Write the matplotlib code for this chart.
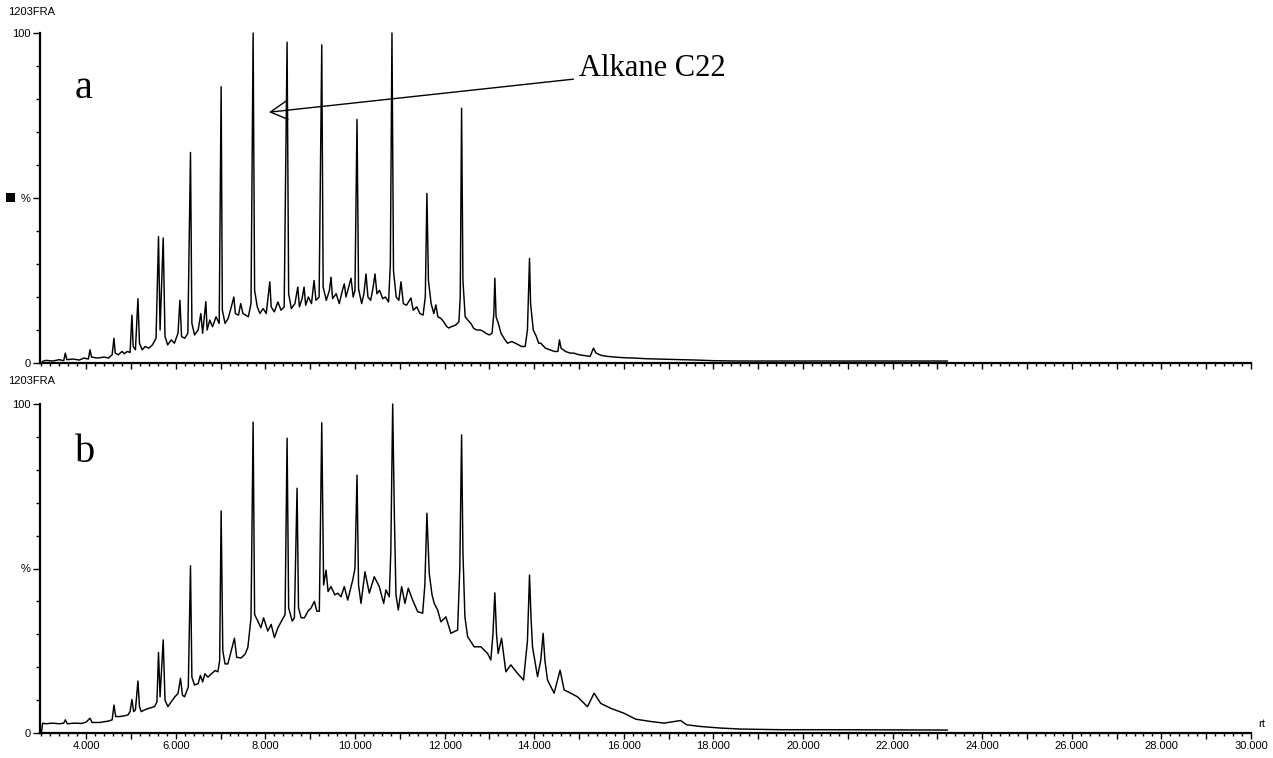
import matplotlib
matplotlib.use("Agg")
import matplotlib.pyplot as plt
from matplotlib.ticker import FixedLocator, MultipleLocator, FuncFormatter
from matplotlib.patches import Rectangle

# ---------------- data (retention time in min, relative intensity in %) -------------
rt_a = [3.00, 3.03, 3.10, 3.25, 3.40, 3.50, 3.535, 3.57, 3.70, 3.85, 3.95, 4.05, 4.086, 4.12, 4.25,
        4.40, 4.50, 4.58, 4.621, 4.65, 4.72, 4.80, 4.85, 4.92, 4.98, 5.022, 5.05, 5.10, 5.156,
        5.19, 5.25, 5.32, 5.40, 5.48, 5.56, 5.615, 5.65, 5.72, 5.76, 5.82, 5.90, 5.97, 6.05,
        6.093, 6.13, 6.20, 6.27, 6.329, 6.36, 6.42, 6.50, 6.56, 6.60, 6.672, 6.70, 6.76, 6.82,
        6.90, 6.97, 7.013, 7.04, 7.10, 7.17, 7.24, 7.297, 7.33, 7.40, 7.45, 7.50, 7.62, 7.68,
        7.727, 7.76, 7.82, 7.88, 7.95, 8.02, 8.099, 8.13, 8.20, 8.28, 8.35, 8.42, 8.485, 8.52,
        8.58, 8.66, 8.724, 8.76, 8.82, 8.864, 8.90, 8.96, 9.03, 9.087, 9.13, 9.20, 9.259, 9.29,
        9.36, 9.43, 9.466, 9.50, 9.58, 9.65, 9.72, 9.762, 9.80, 9.85, 9.912, 9.96, 10.00,
        10.046, 10.08, 10.15, 10.20, 10.246, 10.29, 10.35, 10.40, 10.447, 10.49, 10.55, 10.62,
        10.68, 10.75, 10.79, 10.826, 10.86, 10.92, 10.98, 11.027, 11.08, 11.15, 11.25, 11.30,
        11.38, 11.45, 11.52, 11.57, 11.606, 11.64, 11.70, 11.76, 11.807, 11.85, 11.92, 11.98,
        12.05, 12.097, 12.15, 12.25, 12.32, 12.35, 12.380, 12.41, 12.46, 12.52, 12.587, 12.65,
        12.72, 12.80, 12.877, 12.92, 13.00, 13.06, 13.10, 13.122, 13.15, 13.20, 13.26, 13.35,
        13.406, 13.50, 13.58, 13.65, 13.72, 13.80, 13.85, 13.896, 13.92, 13.98, 14.05, 14.10,
        14.148, 14.25, 14.35, 14.45, 14.53, 14.565, 14.60, 14.70, 14.80, 14.884, 15.00, 15.10,
        15.25, 15.323, 15.38, 15.50, 15.635, 15.80, 16.00, 16.222, 16.50, 16.98, 17.30, 17.60,
        18.00, 18.50, 20.00, 23.22]
int_a = [0.0, 0.5, 0.8, 0.6, 1.0, 0.7, 3.0, 1.0, 1.2, 0.9, 1.5, 1.2, 4.0, 1.8, 1.5,
         1.8, 1.5, 2.5, 7.5, 3.0, 2.5, 3.5, 2.8, 3.5, 3.2, 14.5, 5.0, 4.0, 19.5,
         6.0, 4.0, 5.0, 4.5, 5.5, 7.5, 38.3, 10.0, 37.9, 8.0, 5.5, 7.0, 6.0, 9.0,
         19.0, 8.0, 7.5, 9.0, 63.8, 12.0, 8.5, 10.0, 15.0, 9.0, 18.6, 10.0, 13.0, 11.0,
         14.0, 12.0, 83.7, 16.0, 12.0, 13.5, 17.0, 20.0, 15.0, 14.5, 18.0, 15.0, 14.0, 18.0,
         100.0, 22.0, 17.0, 15.0, 16.5, 15.0, 24.6, 17.0, 15.5, 18.5, 16.0, 17.0, 97.2, 21.0,
         16.5, 18.0, 23.0, 17.0, 19.5, 23.0, 17.5, 20.0, 18.0, 25.0, 19.0, 20.0, 96.4, 23.0,
         19.0, 22.0, 26.0, 19.5, 21.0, 18.0, 22.0, 24.0, 20.0, 22.5, 25.7, 20.0, 22.0,
         73.8, 22.5, 18.0, 21.0, 27.0, 20.0, 19.0, 22.5, 27.0, 21.0, 22.0, 19.5,
         20.0, 18.5, 30.0, 100.0, 28.0, 20.0, 19.0, 24.6, 18.0, 17.5, 19.7, 16.0,
         17.0, 15.0, 14.5, 20.0, 51.4, 25.0, 18.0, 15.0, 17.6, 14.0, 13.5, 12.5,
         11.0, 10.6, 11.0, 11.5, 12.5, 20.0, 77.2, 25.0, 14.0, 13.0, 12.0, 10.5,
         10.0, 10.0, 9.5, 9.0, 8.5, 9.0, 15.0, 25.7, 14.0, 12.0, 9.0, 7.0,
         6.0, 6.5, 6.0, 5.5, 5.0, 5.0, 10.0, 31.7, 18.0, 10.0, 8.0, 6.0,
         6.0, 4.5, 4.0, 3.5, 3.5, 7.0, 4.5, 3.5, 3.0, 3.0, 2.5, 2.3,
         2.0, 4.5, 3.0, 2.3, 2.0, 1.8, 1.6, 1.5, 1.3, 1.1, 1.0, 0.9,
         0.7, 0.6, 0.6, 0.6]

rt_b = [3.00, 3.03, 3.10, 3.25, 3.40, 3.50, 3.535, 3.58, 3.742, 3.90, 4.00, 4.086, 4.13, 4.30, 4.487,
        4.58, 4.621, 4.66, 4.75, 4.85, 4.933, 4.98, 5.022, 5.06, 5.10, 5.156, 5.19, 5.230, 5.30,
        5.40, 5.526, 5.58, 5.615, 5.65, 5.720, 5.76, 5.825, 5.90, 5.98, 6.05, 6.106, 6.15, 6.195,
        6.28, 6.329, 6.36, 6.418, 6.50, 6.55, 6.60, 6.65, 6.717, 6.80, 6.88, 6.940, 6.98, 7.013,
        7.05, 7.10, 7.163, 7.22, 7.310, 7.36, 7.459, 7.55, 7.609, 7.68, 7.727, 7.76, 7.832, 7.90,
        7.96, 8.055, 8.13, 8.202, 8.28, 8.351, 8.44, 8.485, 8.52, 8.60, 8.648, 8.708, 8.74, 8.80,
        8.871, 8.95, 9.02, 9.094, 9.15, 9.205, 9.259, 9.30, 9.355, 9.40, 9.466, 9.55, 9.616,
        9.689, 9.762, 9.838, 9.950, 10.000, 10.046, 10.08, 10.135, 10.224, 10.320, 10.431,
        10.543, 10.641, 10.692, 10.766, 10.80, 10.842, 10.88, 10.915, 10.967, 11.042, 11.116,
        11.190, 11.288, 11.399, 11.511, 11.56, 11.606, 11.658, 11.72, 11.769, 11.845, 11.918,
        12.030, 12.141, 12.291, 12.34, 12.380, 12.41, 12.454, 12.514, 12.661, 12.811, 12.960,
        13.033, 13.08, 13.122, 13.16, 13.196, 13.272, 13.368, 13.479, 13.629, 13.763, 13.85,
        13.896, 13.93, 13.963, 14.075, 14.148, 14.200, 14.24, 14.298, 14.445, 14.579, 14.668,
        14.817, 14.967, 15.190, 15.337, 15.486, 15.709, 16.006, 16.267, 16.60, 16.90, 17.27,
        17.40, 17.70, 18.16, 18.60, 19.50, 20.50, 23.22]
int_b = [0.0, 3.0, 2.8, 3.0, 2.8, 3.0, 4.0, 2.8, 3.0, 2.9, 3.3, 4.5, 3.2, 3.2, 3.6,
         4.0, 8.5, 5.0, 5.0, 5.2, 5.5, 6.5, 10.2, 6.5, 7.0, 15.8, 8.0, 6.5, 7.0,
         7.5, 8.0, 9.5, 24.5, 11.0, 28.3, 10.0, 8.0, 9.5, 11.0, 12.0, 16.6, 11.5, 11.0,
         14.0, 50.8, 17.0, 14.6, 15.0, 17.5, 15.5, 18.0, 17.0, 18.0, 19.0, 18.6, 22.0, 67.5,
         25.0, 21.0, 21.0, 24.0, 28.8, 23.0, 22.8, 24.0, 26.0, 35.0, 94.5, 36.0, 34.0, 32.0,
         35.0, 31.0, 33.0, 29.0, 32.0, 33.8, 36.0, 89.6, 38.0, 34.0, 35.0, 74.4, 38.0, 35.0,
         35.0, 37.0, 38.0, 40.0, 37.0, 37.0, 94.3, 45.0, 49.5, 43.0, 44.5, 42.0, 42.5,
         41.4, 44.5, 40.4, 46.5, 50.0, 78.4, 45.0, 39.4, 49.0, 42.5, 47.5,
         44.5, 39.4, 43.5, 41.4, 55.0, 100.0, 65.7, 42.0, 37.4, 44.5, 39.4,
         44.0, 40.4, 36.9, 36.4, 45.0, 66.8, 48.5, 42.0, 39.4, 37.4, 33.8,
         35.3, 30.3, 31.3, 50.0, 90.6, 55.0, 35.3, 29.3, 26.2, 26.2, 24.2,
         22.2, 30.0, 42.6, 30.0, 24.2, 28.8, 18.6, 20.7, 18.1, 16.1, 28.0,
         48.0, 35.0, 26.2, 17.1, 22.2, 30.3, 22.0, 16.1, 12.1, 19.1, 13.1,
         12.1, 11.0, 8.0, 12.1, 9.0, 7.5, 6.0, 4.2, 3.5, 3.0, 3.8,
         2.5, 2.0, 1.5, 1.2, 1.0, 1.0, 0.9]

panel_labels = ["a", "b"]
header = "1203FRA"
x_major = list(range(4, 31, 1))
annot_text = "Alkane C22"
annot_xy = (8.08, 76.0)
annot_text_xy = (15.0, 87.0)

# ---------------- figure ----------------
W, H = 1273, 758
fig = plt.figure(figsize=(W / 100, H / 100), dpi=100)
sans = "Liberation Sans"
serif = "Liberation Serif"

ax1 = fig.add_axes([40 / W, 1 - 363 / H, 1211 / W, 330 / H])
ax2 = fig.add_axes([40 / W, 1 - 733 / H, 1211 / W, 329 / H])

def fmt(v, pos):
    v = round(v)
    return f"{v:.3f}" if v % 2 == 0 else ""

for ax, rt, it, lab, ly in [(ax1, rt_a, int_a, panel_labels[0], 0.803),
                            (ax2, rt_b, int_b, panel_labels[1], 0.824)]:
    ax.plot(rt, it, color="black", lw=1.05, clip_on=False)
    ax.set_xlim(2.97, 30.0)
    ax.set_ylim(0, 100)
    for s in ["top", "right"]:
        ax.spines[s].set_visible(False)
    for s in ["left", "bottom"]:
        ax.spines[s].set_linewidth(1.6)
    ax.set_yticks([0, 50, 100])
    ax.set_yticklabels(["0", "%", "100"])
    ax.yaxis.set_minor_locator(FixedLocator([10, 20, 30, 40, 60, 70, 80, 90]))
    ax.xaxis.set_major_locator(FixedLocator(x_major))
    ax.xaxis.set_major_formatter(FuncFormatter(fmt))
    ax.xaxis.set_minor_locator(MultipleLocator(0.2))
    ax.tick_params(axis="y", which="major", length=5, width=1.0, pad=1.5, labelsize=8)
    ax.tick_params(axis="y", which="minor", length=3, width=1.0)
    ax.tick_params(axis="x", which="major", length=4.5, width=1.0, pad=1.5, labelsize=8)
    ax.tick_params(axis="x", which="minor", length=2.2, width=1.0)
    for t in ax.get_xticklabels() + ax.get_yticklabels():
        t.set_fontfamily(sans)
    ax.text(0.029, ly, lab, transform=ax.transAxes, fontsize=29, family=serif,
            ha="left", va="baseline")

ax1.tick_params(axis="x", labelbottom=False)

fig.text(8 / W, 1 - 12 / H, header, fontsize=8, family=sans, ha="left", va="center")
fig.text(8 / W, 1 - 381 / H, header, fontsize=8, family=sans, ha="left", va="center")
fig.add_artist(Rectangle((6 / W, 1 - 202 / H), 9 / W, 9 / H, transform=fig.transFigure,
                         facecolor="black", edgecolor="none"))
fig.text(1258 / W, 1 - 724 / H, "rt", fontsize=8, family=sans, ha="left", va="center")

ax1.annotate(annot_text, xy=annot_xy, xytext=annot_text_xy, textcoords="data",
             fontsize=22, family=serif, ha="left", va="baseline",
             arrowprops=dict(arrowstyle="->, head_length=0.6, head_width=0.33",
                             color="black", lw=1.0, relpos=(0.0, 0.15),
                             shrinkA=2, shrinkB=0, mutation_scale=20))

fig.savefig("out.png", dpi=100)
